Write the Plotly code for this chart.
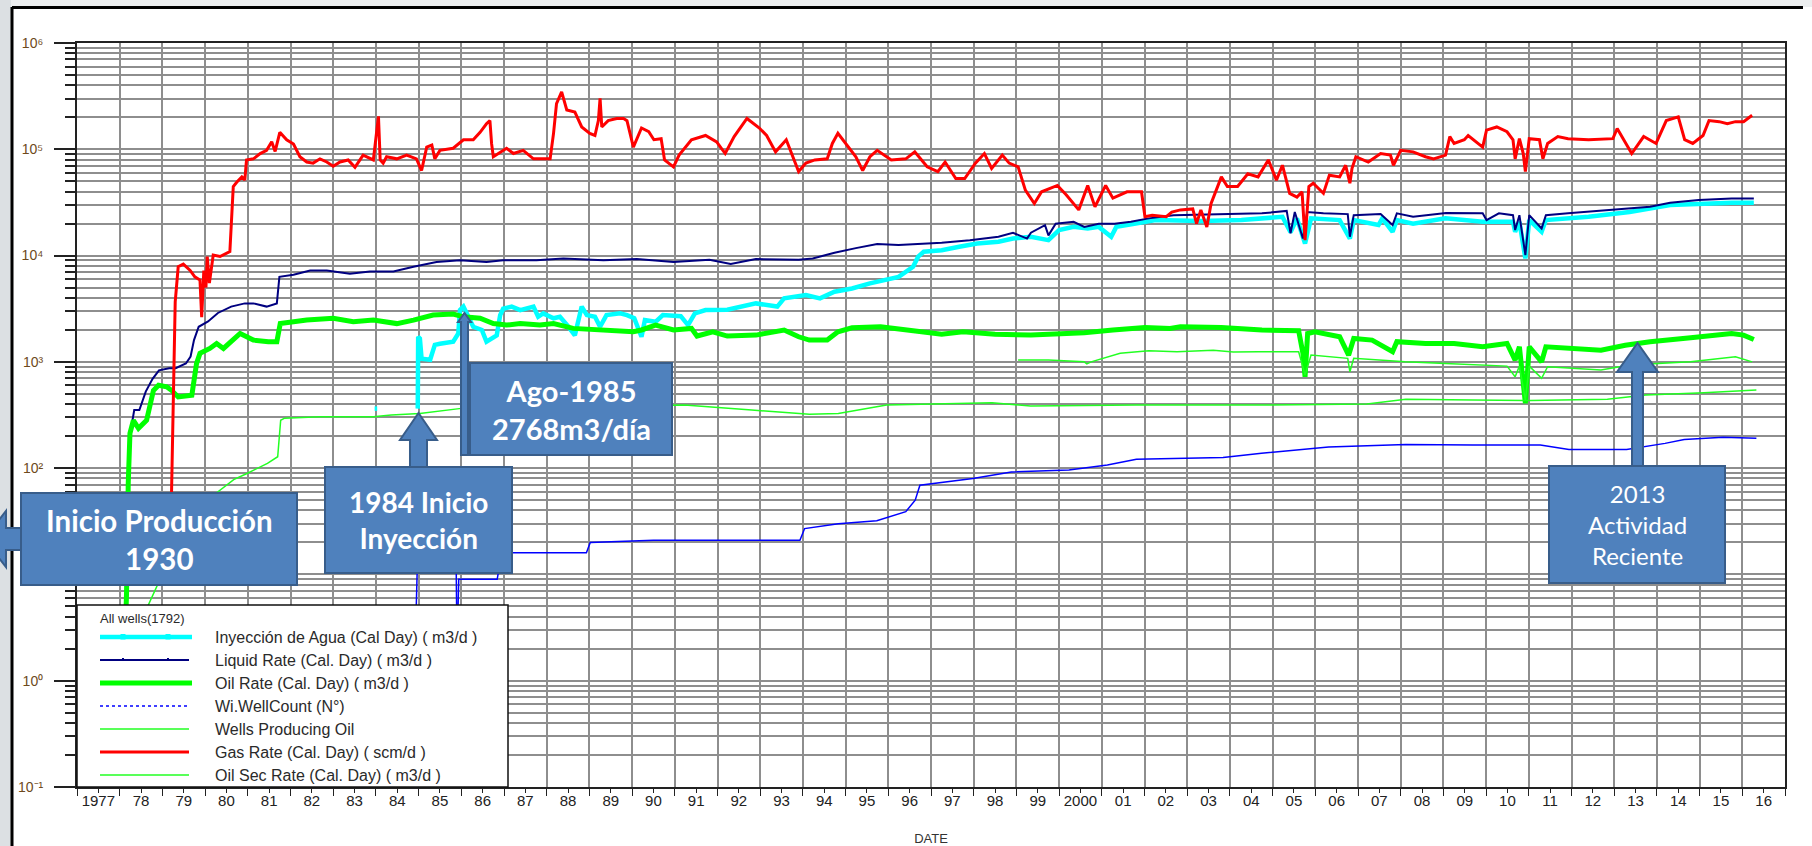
import plotly.graph_objects as go

# ---------------- data ----------------
gas_years = [1979.20, 1979.24, 1979.30, 1979.37, 1979.49, 1979.65, 1979.76, 1979.88, 1979.92, 1979.97,
             1980.02, 1980.05, 1980.10, 1980.19, 1980.35, 1980.58, 1980.62, 1980.66, 1980.74, 1980.86,
             1980.93, 1980.97, 1981.13, 1981.29, 1981.44, 1981.56, 1981.64, 1981.75, 1981.91, 1982.07,
             1982.22, 1982.38, 1982.53, 1982.69, 1982.85, 1983.00, 1983.16, 1983.35, 1983.51, 1983.70,
             1983.94, 1984.06, 1984.10, 1984.17, 1984.25, 1984.49, 1984.72, 1984.95, 1985.07, 1985.19,
             1985.31, 1985.38, 1985.50, 1985.81, 1986.05, 1986.28, 1986.44, 1986.59, 1986.67, 1986.71,
             1986.75, 1987.06, 1987.22, 1987.45, 1987.69, 1988.08, 1988.16, 1988.23, 1988.35, 1988.47,
             1988.66, 1988.82, 1989.01, 1989.13, 1989.21, 1989.25, 1989.29, 1989.44, 1989.64, 1989.80,
             1989.88, 1990.03, 1990.22, 1990.39, 1990.51, 1990.68, 1990.76, 1990.97, 1991.10, 1991.39,
             1991.72, 1991.98, 1992.18, 1992.39, 1992.69, 1992.98, 1993.15, 1993.36, 1993.61, 1993.73,
             1993.90, 1994.07, 1994.28, 1994.57, 1994.69, 1994.82, 1995.07, 1995.24, 1995.40, 1995.57,
             1995.74, 1996.07, 1996.41, 1996.62, 1996.91, 1997.16, 1997.33, 1997.58, 1997.79, 1998.04,
             1998.25, 1998.42, 1998.67, 1998.83, 1999.04, 1999.21, 1999.42, 1999.59, 1999.96, 2000.17,
             2000.46, 2000.67, 2000.84, 2001.09, 2001.26, 2001.59, 2001.93, 2002.01, 2002.18, 2002.51,
             2002.64, 2002.84, 2003.13, 2003.22, 2003.32, 2003.46, 2003.56, 2003.80, 2003.94, 2004.18,
             2004.42, 2004.66, 2004.90, 2005.09, 2005.23, 2005.40, 2005.57, 2005.69, 2005.76, 2005.85,
             2005.95, 2006.19, 2006.33, 2006.57, 2006.71, 2006.81, 2006.86, 2006.95, 2007.24, 2007.53,
             2007.76, 2007.83, 2008.00, 2008.29, 2008.58, 2008.77, 2009.05, 2009.15, 2009.25, 2009.49,
             2009.58, 2009.92, 2010.01, 2010.25, 2010.49, 2010.63, 2010.68, 2010.78, 2010.87, 2010.92,
             2011.01, 2011.25, 2011.33, 2011.44, 2011.68, 2011.92, 2012.40, 2012.97, 2013.07, 2013.41,
             2013.69, 2013.98, 2014.22, 2014.50, 2014.65, 2014.84, 2015.08, 2015.22, 2015.46, 2015.65,
             2015.84, 2016.03, 2016.23]
gas_rate = [30, 165, 3670, 7850, 8320, 7240, 6310, 5890, 2630, 7240,
            5010, 9770, 5500, 10100, 9800, 10900, 20000, 44700, 49000, 55000,
            51300, 79400, 81300, 91200, 97700, 117500, 95500, 144500, 123000, 112200,
            85100, 75900, 74100, 81300, 75900, 69200, 75900, 79400, 67600, 88100,
            79400, 204000, 79400, 74100, 85100, 81300, 88100, 81300, 63100, 104700,
            109600, 81300, 97700, 102300, 123000, 123000, 144500, 173800, 186200, 112200,
            85100, 102300, 91200, 97700, 81300, 81300, 141300, 269000, 346700, 234400,
            223900, 162200, 141300, 134900, 186200, 302000, 162200, 186200, 195000, 195000,
            186000, 104700, 158500, 146200, 123000, 125900, 79400, 68400, 88100, 123000,
            134900, 117500, 91200, 131800, 195000, 158500, 134900, 94600, 123000, 91200,
            61700, 74100, 79400, 81300, 113500, 141300, 104700, 85100, 63100, 85100,
            97700, 79400, 81300, 94600, 68400, 61700, 75900, 53100, 53100, 74100,
            91200, 66100, 88100, 74100, 68400, 41300, 30900, 39800, 45700, 37200,
            26900, 45700, 28800, 45700, 34700, 39800, 39800, 23200, 24000, 23200,
            25700, 26900, 27500, 20000, 26900, 18600, 30900, 55000, 44700, 44700,
            58900, 55000, 79400, 51300, 70800, 38500, 35500, 39800, 14000, 44700,
            47900, 38500, 57100, 55000, 70800, 47900, 66100, 85100, 75900, 91200,
            88100, 70800, 97700, 94600, 85100, 81300, 88100, 131800, 113500, 123000,
            134900, 104700, 151400, 162200, 146200, 123000, 81300, 125900, 91200, 61700,
            125900, 123000, 81300, 113500, 131800, 125900, 123000, 125900, 157000, 91200,
            131800, 113500, 186200, 201800, 123000, 113500, 134900, 186200, 182000, 173800,
            182000, 182000, 208900]

liquid_years = [1978.24, 1978.34, 1978.46, 1978.61, 1978.77, 1978.92, 1979.16, 1979.31, 1979.55, 1979.66,
                1979.74, 1979.85, 1980.07, 1980.30, 1980.61, 1980.93, 1981.13, 1981.44, 1981.68, 1981.74,
                1982.07, 1982.46, 1982.85, 1983.39, 1983.86, 1984.41, 1984.88, 1985.42, 1985.97, 1986.59,
                1986.98, 1987.76, 1988.39, 1989.33, 1990.11, 1990.97, 1991.81, 1992.31, 1992.90, 1993.90,
                1994.23, 1994.74, 1995.24, 1995.74, 1996.24, 1996.83, 1997.25, 1997.91, 1998.58, 1998.92,
                1999.25, 1999.34, 1999.67, 1999.75, 1999.92, 2000.34, 2000.59, 2000.93, 2001.30, 2001.68,
                2002.10, 2002.68, 2003.80, 2004.75, 2005.33, 2005.42, 2005.52, 2005.71, 2005.81, 2006.19,
                2006.76, 2006.81, 2006.90, 2007.53, 2007.81, 2007.91, 2008.29, 2009.06, 2009.92, 2010.01,
                2010.30, 2010.63, 2010.68, 2010.78, 2010.92, 2011.01, 2011.30, 2011.40, 2011.92, 2012.88,
                2013.84, 2014.31, 2014.98, 2015.75, 2016.27]
liquid_rate = [204, 352, 352, 525, 692, 832, 871, 871, 966, 1122,
               1603, 2138, 2399, 2884, 3311, 3548, 3548, 3311, 3548, 6310,
               6607, 7244, 7244, 6761, 7079, 7079, 7852, 8710, 9057, 8710,
               9057, 9057, 9397, 9057, 9270, 8710, 9120, 8318, 9268, 9120,
               9397, 10620, 11750, 12830, 12590, 12830, 13180, 13960, 15030, 16410,
               14450, 16410, 19360, 15490, 19950, 20800, 18620, 19950, 19950, 20800,
               22390, 23990, 24550, 24950, 26300, 16220, 25700, 14450, 25700, 24950,
               24550, 15030, 23990, 24550, 19360, 24950, 23170, 25120, 24950, 21580,
               24950, 23990, 17380, 23990, 10090, 23990, 17990, 23990, 24950, 26790,
               28840, 31410, 33270, 34430, 34430]

injection_years = [1983.97, 1984.03, None, 1984.98, 1984.99, 1985.03, 1985.07, 1985.27, 1985.38, 1985.50,
                   1985.81, 1985.93, 1985.97, 1986.05, 1986.17, 1986.28, 1986.48, 1986.59, 1986.83, 1986.91,
                   1986.98, 1987.18, 1987.38, 1987.69, 1987.80, 1987.92, 1988.16, 1988.31, 1988.51, 1988.66,
                   1988.82, 1988.94, 1989.13, 1989.25, 1989.40, 1989.72, 1989.88, 1990.05, 1990.22, 1990.30,
                   1990.55, 1990.72, 1991.14, 1991.31, 1991.47, 1991.72, 1992.23, 1992.90, 1993.40, 1993.56,
                   1994.07, 1994.40, 1994.74, 1995.15, 1995.57, 1995.91, 1996.24, 1996.58, 1996.70, 1996.83,
                   1997.25, 1997.66, 1998.08, 1998.58, 1998.92, 1999.34, 1999.75, 2000.00, 2000.34, 2000.67,
                   2000.93, 2001.22, 2001.34, 2001.76, 2002.26, 2003.32, 2004.27, 2005.23, 2005.42, 2005.57,
                   2005.76, 2005.90, 2006.57, 2006.81, 2006.90, 2007.48, 2007.57, 2007.81, 2007.91, 2008.29,
                   2009.05, 2009.92, 2010.63, 2010.68, 2010.78, 2010.92, 2011.01, 2011.30, 2011.40, 2012.40,
                   2013.36, 2014.31, 2014.98, 2015.75, 2016.27]
injection_rate = [363, 363, None, 363, 1722, 1660, 1072, 1047, 1445, 1479,
                  1549, 1849, 3069, 3311, 2655, 2138, 1995, 1549, 1778, 2754,
                  3162, 3311, 3069, 3311, 2655, 2858, 2570, 2655, 2138, 1778,
                  3311, 2754, 2655, 2138, 2754, 2858, 2754, 2570, 1722, 2472,
                  2382, 2754, 2692, 2218, 2858, 3069, 3090, 3548, 3311, 3954,
                  4246, 3954, 4571, 4898, 5470, 5888, 6310, 7852, 9772, 10860,
                  11220, 12110, 13000, 13490, 14450, 15030, 13960, 17380, 18620, 17990,
                  18620, 15030, 18620, 19950, 21580, 21130, 21580, 23170, 16600, 22390,
                  13000, 22390, 21580, 14450, 21580, 19360, 22390, 16750, 21580, 19950,
                  22390, 20800, 20800, 16750, 20800, 9397, 21580, 16750, 21580, 23170,
                  25700, 29850, 30900, 31410, 31410]

oil_years = [1978.12, 1978.16, 1978.20, 1978.24, 1978.32, 1978.44, 1978.63, 1978.79, 1978.91, 1979.10,
             1979.22, 1979.37, 1979.69, 1979.80, 1979.88, 1980.11, 1980.27, 1980.43, 1980.82, 1981.13,
             1981.48, 1981.68, 1981.76, 1982.07, 1982.38, 1983.00, 1983.47, 1983.94, 1984.49, 1984.88,
             1985.34, 1985.81, 1986.05, 1986.44, 1986.75, 1987.06, 1987.38, 1987.84, 1988.16, 1988.62,
             1989.09, 1989.56, 1990.03, 1990.22, 1990.55, 1990.97, 1991.39, 1991.52, 1991.89, 1992.23,
             1992.90, 1993.56, 1993.90, 1994.15, 1994.57, 1994.82, 1995.15, 1995.82, 1996.41, 1997.25,
             1997.75, 1998.50, 1999.34, 2000.17, 2000.59, 2001.26, 2002.01, 2002.60, 2002.84, 2003.80,
             2004.75, 2005.61, 2005.71, 2005.76, 2005.82, 2005.99, 2006.57, 2006.78, 2006.90, 2007.33,
             2007.53, 2007.81, 2007.91, 2008.58, 2009.25, 2009.92, 2010.49, 2010.68, 2010.78, 2010.92,
             2011.01, 2011.30, 2011.40, 2011.92, 2012.69, 2013.26, 2013.84, 2014.79, 2015.75, 2016.03,
             2016.27]
oil_rate = [2, 6.6, 72, 212, 282, 237, 282, 537, 603, 582,
            537, 468, 486, 966, 1202, 1337, 1489, 1337, 1849, 1603,
            1549, 1549, 2291, 2382, 2472, 2570, 2382, 2472, 2291, 2472,
            2754, 2818, 2655, 2570, 2291, 2218, 2291, 2218, 2291, 2065,
            2018, 1995, 1919, 1995, 2218, 1995, 2065, 1750, 1919, 1750,
            1786, 1995, 1722, 1603, 1603, 1919, 2089, 2138, 1995, 1820,
            1919, 1820, 1786, 1849, 1879, 1995, 2109, 2065, 2138, 2109,
            1995, 1963, 1202, 724, 1849, 1919, 1722, 1156, 1660, 1603,
            1435, 1245, 1549, 1489, 1489, 1387, 1489, 1040, 1387, 407,
            1387, 1000, 1387, 1337, 1288, 1435, 1549, 1687, 1849, 1786,
            1622]

wellcount_years = [1984.90, 1984.97, 1985.88, 1985.90, 1985.94, 1986.84, 1986.95, 1988.93, 1989.02, 1990.50,
                   1993.93, 1994.04, 1994.83, 1995.73, 1996.41, 1996.63, 1996.74, 1997.98, 1998.88, 2000.23,
                   2001.13, 2001.81, 2003.84, 2004.74, 2006.31, 2008.12, 2009.69, 2011.27, 2011.94, 2013.29,
                   2014.19, 2014.64, 2015.55, 2016.33]
wellcount = [1, 12, 12, 2, 9, 9, 16, 16, 20, 21,
             21, 27, 30, 32, 39, 50, 69, 80, 92, 96,
             107, 121, 126, 138, 158, 167, 165, 165, 150, 150,
             171, 186, 195, 191]

producing_years = [1978.20, 1979.20, 1980.28, 1980.67, 1980.98, 1981.46, 1981.70, 1981.77, 1981.86, 1982.69,
                   1983.94, 1984.36, 1985.03, 1986.00, 1987.50, 1991.23, 1992.80, 1994.15, 1994.83, 1995.96,
                   1998.43, 1999.33, 2001.81, 2004.74, 2007.21, 2008.12, 2009.69, 2011.04, 2012.84, 2013.74,
                   2015.10, 2016.33]
wells_producing = [2, 15, 59, 78, 89, 111, 128, 282, 295, 305,
                   305, 316, 327, 365, 375, 393, 352, 321, 327, 393,
                   413, 384, 393, 393, 401, 444, 437, 432, 444, 488,
                   513, 543]

oilsec_years = [1999.04, 1999.75, 2000.59, 2000.65, 2000.75, 2001.43, 2002.10, 2002.76, 2003.61, 2004.08,
                2004.66, 2005.61, 2005.76, 2005.90, 2006.76, 2006.81, 2006.90, 2007.53, 2008.10, 2009.05,
                2010.49, 2010.68, 2010.78, 2010.92, 2011.01, 2011.30, 2011.44, 2012.69, 2013.36, 2014.79,
                2015.84, 2016.23]
oil_sec_rate = [1040, 1040, 1000, 955, 1000, 1202, 1274, 1245, 1288, 1240,
                1245, 1245, 750, 1159, 1079, 807, 1079, 1040, 1000, 966,
                912, 724, 912, 437, 912, 700, 900, 837, 933, 1000,
                1117, 1000]

year_ticks = list(range(1977, 2018))
year_labels = ["1977", "78", "79", "80", "81", "82", "83", "84", "85", "86", "87", "88", "89",
               "90", "91", "92", "93", "94", "95", "96", "97", "98", "99", "2000", "01", "02",
               "03", "04", "05", "06", "07", "08", "09", "10", "11", "12", "13", "14", "15", "16"]
decade_exponents = [-1, 0, 1, 2, 3, 4, 5, 6]
decade_labels = ["10⁻¹", "10⁰", "10¹", "10²", "10³", "10⁴", "10⁵", "10⁶"]

legend_title = "All wells(1792)"
legend_names = ["Inyección de Agua (Cal Day) ( m3/d )",
                "Liquid Rate (Cal. Day) ( m3/d )",
                "Oil Rate (Cal. Day) ( m3/d )",
                "Wi.WellCount (N°)",
                "Wells Producing Oil",
                "Gas Rate (Cal. Day) ( scm/d )",
                "Oil Sec Rate (Cal. Day) ( m3/d )"]

# ---------------- figure geometry ----------------
W, H = 1812, 846
PL, PR, PT, PB = 77, 1785, 43, 787


def px(x):
    return (x - PL) / (PR - PL)


def py(y):
    return (PB - y) / (PB - PT)


def poly(points):
    return "M " + " L ".join(f"{px(x):.5f},{py(y):.5f}" for x, y in points) + " Z"


# ---------------- traces ----------------
series = [
    (injection_years, injection_rate, "#00FFFF", 4.5, "solid"),
    (liquid_years, liquid_rate, "#000080", 2, "solid"),
    (oil_years, oil_rate, "#00FF00", 5, "solid"),
    (wellcount_years, wellcount, "#0000FF", 1.5, "solid"),
    (producing_years, wells_producing, "#22FF22", 1.5, "solid"),
    (gas_years, gas_rate, "#FF0000", 3, "solid"),
    (oilsec_years, oil_sec_rate, "#22FF22", 1.5, "solid"),
]

fig = go.Figure()
for (xs, ys, col, w, dash), name in zip(series, legend_names):
    fig.add_trace(go.Scatter(x=xs, y=ys, mode="lines", name=name,
                             line=dict(color=col, width=w, dash=dash),
                             showlegend=False, connectgaps=False))

# ---------------- axes ----------------
mid_years = [y + 0.5 for y in year_ticks[:-1]]
minor_vals = [m * 10 ** e for e in decade_exponents[:-1] for m in range(2, 10)]
GRID = "#8e8e8e"

fig.update_xaxes(
    range=[1977, 2017], tickmode="array", tickvals=mid_years, ticktext=year_labels,
    ticks="outside", ticklen=4, tickwidth=1, tickcolor="#222",
    showgrid=False, zeroline=False, automargin=False,
    showline=True, linecolor="#222", linewidth=2, mirror=True,
    tickfont=dict(family="Liberation Sans", size=15, color="#222"),
    ticklabelstandoff=-5,
    minor=dict(tickmode="array", tickvals=year_ticks, ticks="outside", ticklen=7,
               tickwidth=1, tickcolor="#222", showgrid=True, gridcolor=GRID, gridwidth=2),
    title=dict(text="DATE", font=dict(family="Liberation Sans", size=13, color="#333"), standoff=28),
)
fig.update_yaxes(
    type="log", range=[-1, 6], tickmode="array",
    tickvals=[10 ** e for e in decade_exponents],
    ticktext=decade_labels,
    ticks="outside", ticklen=21, tickwidth=1.5, tickcolor="#222",
    showgrid=True, gridcolor=GRID, gridwidth=2, zeroline=False, automargin=False,
    showline=True, linecolor="#222", linewidth=2, mirror=True,
    tickfont=dict(family="Liberation Sans", size=14, color="#6e4a1c"),
    ticklabelstandoff=8,
    minor=dict(tickmode="array", tickvals=minor_vals, ticks="outside", ticklen=10,
               tickwidth=1.5, tickcolor="#222", showgrid=True, gridcolor=GRID, gridwidth=2),
)

shapes = []
annotations = []

# ---------------- slide frame ----------------
shapes.append(dict(type="rect", xref="paper", yref="paper", x0=px(0), x1=px(W), y0=py(0), y1=py(7),
                   fillcolor="#eceeef", line=dict(width=0), layer="above"))
shapes.append(dict(type="rect", xref="paper", yref="paper", x0=px(0), x1=px(11), y0=py(0), y1=py(H),
                   fillcolor="#dce0e3", line=dict(width=0), layer="above"))
shapes.append(dict(type="line", xref="paper", yref="paper", x0=px(12), x1=px(12), y0=py(7), y1=py(H),
                   line=dict(color="#000", width=3), layer="above"))
shapes.append(dict(type="line", xref="paper", yref="paper", x0=px(12), x1=px(1803), y0=py(7.5), y1=py(7.5),
                   line=dict(color="#000", width=3), layer="above"))

# ---------------- manual legend ----------------
shapes.append(dict(type="rect", xref="paper", yref="paper", x0=px(77), x1=px(508), y0=py(787), y1=py(605),
                   fillcolor="white", line=dict(color="#111", width=1.5), layer="above"))
annotations.append(dict(xref="paper", yref="paper", x=px(98), y=py(618), text=legend_title,
                        showarrow=False, xanchor="left", yanchor="middle",
                        font=dict(family="Liberation Sans", size=13, color="#2a2a2a")))
leg_y = [637, 660, 683, 706, 729, 752, 775]
for (xs, ys, col, w, dash), name, yy in zip(series, legend_names, leg_y):
    sdash = "dot" if name.startswith("Wi.") else "solid"
    sw = w if w > 2 else (1.5 if w < 2 else 2)
    shapes.append(dict(type="line", xref="paper", yref="paper", x0=px(100), x1=px(192 if w > 3 else 189),
                       y0=py(yy), y1=py(yy), line=dict(color=col, width=sw, dash=sdash), layer="above"))
    annotations.append(dict(xref="paper", yref="paper", x=px(213), y=py(yy), text=name,
                            showarrow=False, xanchor="left", yanchor="middle",
                            font=dict(family="Liberation Sans", size=16, color="#2a2a2a")))
for mx in (123, 168):
    shapes.append(dict(type="rect", xref="paper", yref="paper", x0=px(mx - 2.5), x1=px(mx + 2.5),
                       y0=py(leg_y[0] + 2.5), y1=py(leg_y[0] - 3), fillcolor="#00FFFF",
                       line=dict(width=0), layer="above"))
    shapes.append(dict(type="rect", xref="paper", yref="paper", x0=px(mx - 1), x1=px(mx + 1),
                       y0=py(leg_y[1] + 1), y1=py(leg_y[1] - 2), fillcolor="#000080",
                       line=dict(width=0), layer="above"))

# ---------------- callouts ----------------
FILL, EDGE = "#4F81BD", "#385D8A"


def callout(arrow_pts, box, text, size, bold=True):
    shapes.append(dict(type="path", xref="paper", yref="paper", path=poly(arrow_pts),
                       fillcolor=FILL, line=dict(color=EDGE, width=2), layer="above"))
    x0, x1, y0, y1 = box
    shapes.append(dict(type="rect", xref="paper", yref="paper", x0=px(x0), x1=px(x1), y0=py(y1), y1=py(y0),
                       fillcolor=FILL, line=dict(color=EDGE, width=2), layer="above"))
    t = "<br>".join(f"<b>{s}</b>" if bold else s for s in text)
    annotations.append(dict(xref="paper", yref="paper", x=px((x0 + x1) / 2), y=py((y0 + y1) / 2),
                            text=t, showarrow=False, xanchor="center", yanchor="middle", align="center",
                            font=dict(family="Lato", size=size, color="white")))


callout([(23, 528), (6, 528), (6, 511), (-16, 539), (6, 567), (6, 550), (23, 550)],
        (21, 297, 493, 585), ["Inicio Producción", "1930"], 29.5)
callout([(410, 469), (410, 440), (400, 440), (418.5, 413), (437, 440), (427, 440), (427, 469)],
        (325, 512, 467, 573), ["1984 Inicio", "Inyección"], 28)
callout([(461, 455), (461, 322), (458, 322), (464.5, 313), (471, 322), (468, 322), (468, 455)],
        (470, 672, 363, 455), ["Ago-1985", "2768m3/día"], 29)
callout([(1632, 468), (1632, 372), (1617, 372), (1637.5, 343), (1658, 372), (1643, 372), (1643, 468)],
        (1549, 1725, 466, 583), ["2013", "Actividad", "Reciente"], 24, bold=False)

fig.update_layout(
    width=W, height=H,
    margin=dict(l=PL, r=W - PR, t=PT, b=H - PB, pad=0, autoexpand=False),
    paper_bgcolor="white", plot_bgcolor="white",
    showlegend=False,
    shapes=shapes, annotations=annotations,
)

fig.write_html("out.html", config={"displayModeBar": False},
               post_script="document.body.style.margin='0';document.body.style.overflow='hidden';")
